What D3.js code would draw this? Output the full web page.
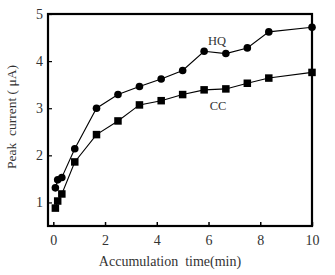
<!DOCTYPE html>
<meta charset="utf-8">
<style>
    body { margin: 0; background: #fff; }
    text { font-family: "Liberation Serif", "DejaVu Serif", serif; fill: #333; white-space: pre; }
    .tick text { font-size: 14px; }
    .axisLabel { font-size: 14px; text-anchor: middle; }
</style>
<body>
<script src="https://d3js.org/d3.v7.min.js"></script>
<script>
    // accumulation time (min)
    let times = [0.08, 0.17, 0.33, 0.83, 1.67, 2.5, 3.33, 4.17, 5, 5.83, 6.67, 7.5, 8.33, 10];
    // peak current (uA)
    let hq = [1.31, 1.48, 1.53, 2.14, 3.0, 3.29, 3.46, 3.62, 3.8, 4.21, 4.16, 4.28, 4.62, 4.72];
    let cc = [0.88, 1.03, 1.18, 1.86, 2.44, 2.73, 3.07, 3.16, 3.29, 3.39, 3.41, 3.53, 3.64, 3.76];
    let xTicks = [0, 2, 4, 6, 8, 10];
    let yTicks = [1, 2, 3, 4, 5];

    let width = 335, height = 275;
    let plotLeft = 48, plotRight = 312, plotTop = 14, plotBottom = 226;

    let svg = d3.select("body").append("svg")
        .attr("width", width)
        .attr("height", height);

    let x = d3.scaleLinear().domain([0, 10]).range([53.3, 312]);
    let y = d3.scaleLinear().domain([0.5, 5]).range([plotBottom, plotTop]);

    // x axis (ticks point inward)
    let xAxis = svg.append("g")
        .attr("transform", "translate(0," + plotBottom + ")")
        .call(d3.axisBottom(x).tickValues(xTicks).tickFormat(d3.format("d"))
            .tickSizeInner(-4).tickSizeOuter(0).tickPadding(9));
    xAxis.select(".domain").remove();
    xAxis.selectAll("line").attr("stroke", "#000").attr("stroke-width", 1.5);
    xAxis.selectAll("text").attr("fill", "#333").attr("font-family", null).attr("font-size", null);

    // y axis
    let yAxis = svg.append("g")
        .attr("transform", "translate(" + plotLeft + ",0)")
        .call(d3.axisLeft(y).tickValues(yTicks).tickFormat(d3.format("d"))
            .tickSizeInner(-4).tickSizeOuter(0).tickPadding(5));
    yAxis.select(".domain").remove();
    yAxis.selectAll("line").attr("stroke", "#000").attr("stroke-width", 1.2);
    yAxis.selectAll("text").attr("fill", "#333").attr("font-family", null).attr("font-size", null);

    // frame
    svg.append("rect")
        .attr("x", plotLeft).attr("y", plotTop)
        .attr("width", plotRight - plotLeft).attr("height", plotBottom - plotTop)
        .attr("fill", "none").attr("stroke", "#000").attr("stroke-width", 2.2);

    let line = d3.line()
        .x(function(d) { return x(d[0]); })
        .y(function(d) { return y(d[1]); });

    let hqData = times.map(function(t, i) { return [t, hq[i]]; });
    let ccData = times.map(function(t, i) { return [t, cc[i]]; });

    svg.append("path").datum(hqData)
        .attr("d", line).attr("fill", "none").attr("stroke", "#000").attr("stroke-width", 1.1);
    svg.append("path").datum(ccData)
        .attr("d", line).attr("fill", "none").attr("stroke", "#000").attr("stroke-width", 1.1);

    svg.append("g").selectAll("circle")
        .data(hqData)
        .join("circle")
            .attr("cx", function(d) { return x(d[0]); })
            .attr("cy", function(d) { return y(d[1]); })
            .attr("r", 3.8)
            .attr("fill", "#000");

    let s = 7.5;
    svg.append("g").selectAll("rect")
        .data(ccData)
        .join("rect")
            .attr("x", function(d) { return x(d[0]) - s / 2; })
            .attr("y", function(d) { return y(d[1]) - s / 2; })
            .attr("width", s)
            .attr("height", s)
            .attr("fill", "#000");

    // series labels
    svg.append("text").attr("x", 217).attr("y", 45).attr("text-anchor", "middle")
        .attr("font-size", 12.5).text("HQ");
    svg.append("text").attr("x", 218).attr("y", 110).attr("text-anchor", "middle")
        .attr("font-size", 12.5).text("CC");

    // axis labels
    svg.append("text").attr("class", "axisLabel")
        .attr("x", 170).attr("y", 266)
        .text("Accumulation  time(min)");
    svg.append("text").attr("class", "axisLabel")
        .attr("transform", "translate(16,117) rotate(-90)")
        .style("font-size", "13.5px")
        .text("Peak  current ( μA)");
</script>
</body>
